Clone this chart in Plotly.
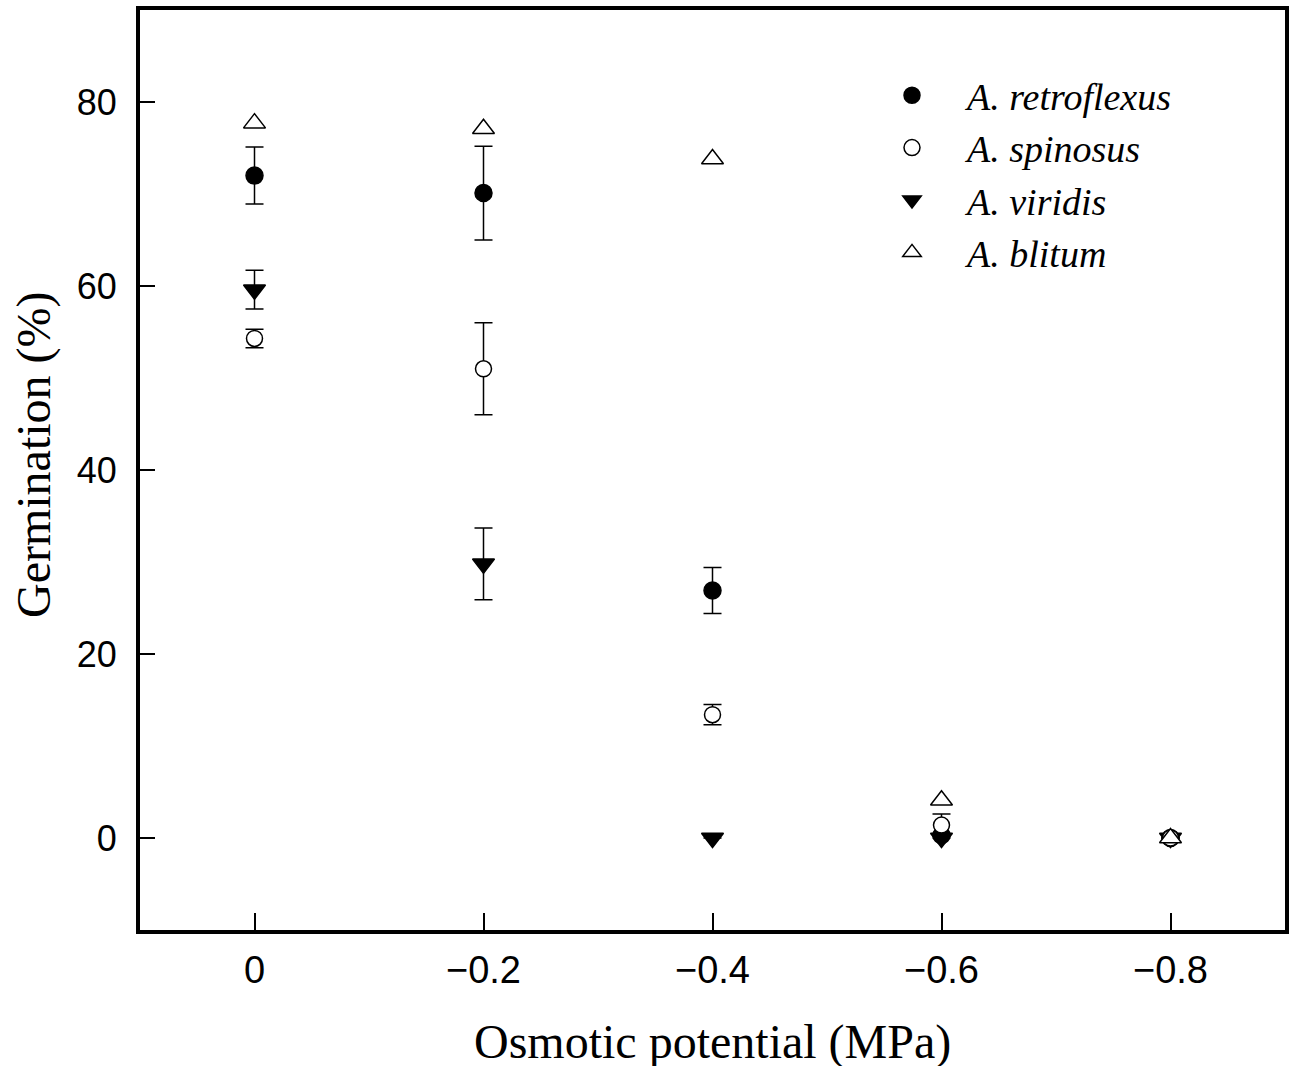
import plotly.graph_objects as go

x_vals = [0, -0.2, -0.4, -0.6, -0.8]
x_ticktext = ["0", "\u22120.2", "\u22120.4", "\u22120.6", "\u22120.8"]

retroflexus = [72.0, 70.1, 26.9, 0.3, 0.0]
retroflexus_err = [3.1, 5.1, 2.5, 0.0, 0.0]
spinosus = [54.3, 51.0, 13.4, 1.4, 0.0]
spinosus_err = [1.0, 5.0, 1.1, 1.2, 0.0]
viridis = [59.6, 29.8, 0.0, 0.0, 0.0]
viridis_err = [2.1, 3.9, 0.0, 0.0, 0.0]
blitum = [77.7, 77.1, 73.8, 4.1, 0.0]

y_ticks = [0, 20, 40, 60, 80]

fig = go.Figure()

def add(name, y, err, symbol, fill, size, rank):
    kw = {}
    if err is not None:
        kw["error_y"] = dict(type="data", array=err, visible=True, color="black",
                             thickness=1.5, width=9)
    fig.add_trace(go.Scatter(
        x=x_vals, y=y, name=name, mode="markers", legendrank=rank,
        marker=dict(symbol=symbol, size=size, color=fill,
                    line=dict(color="black", width=1.5)),
        **kw))

add("A. retroflexus", retroflexus, retroflexus_err, "circle", "black", 17, 1)
add("A. viridis", viridis, viridis_err, "triangle-down", "black", 19, 3)
add("A. spinosus", spinosus, spinosus_err, "circle", "white", 16, 2)
add("A. blitum", blitum, None, "triangle-up", "white", 19, 4)

L, R, T, B = 140, 8, 10, 136
W, H = 1293, 1066
pw, ph = W - L - R, H - T - B

fig.update_layout(
    width=W, height=H,
    margin=dict(l=L, r=R, t=T, b=B, autoexpand=False),
    plot_bgcolor="white", paper_bgcolor="white",
    showlegend=True,
    legend=dict(
        x=(857 - L) / pw, y=1 - (64 - T) / ph, xanchor="left", yanchor="top",
        font=dict(family="Liberation Serif", size=38, color="black", style="italic"),
        bgcolor="rgba(0,0,0,0)", itemwidth=100, tracegroupgap=0,
    ),
    xaxis=dict(
        range=[0.1, -0.9], tickvals=x_vals, ticktext=x_ticktext,
        ticks="inside", ticklen=17, tickwidth=1.5, tickcolor="black",
        showline=True, linewidth=4, linecolor="black", mirror=True,
        showgrid=False, zeroline=False, automargin=False,
        ticklabelstandoff=3,
        tickfont=dict(family="Liberation Sans", size=38, color="black"),
    ),
    yaxis=dict(
        range=[-10, 90], tickvals=y_ticks,
        ticks="inside", ticklen=15, tickwidth=1.5, tickcolor="black",
        showline=True, linewidth=4, linecolor="black", mirror=True,
        showgrid=False, zeroline=False, automargin=False,
        ticklabelstandoff=12,
        tickfont=dict(family="Liberation Sans", size=36, color="black"),
    ),
    annotations=[
        dict(text="Osmotic potential (MPa)", xref="paper", yref="paper",
             x=(712 - L) / pw, y=-(1042 - (T + ph)) / ph,
             xanchor="center", yanchor="middle", showarrow=False,
             font=dict(family="Liberation Serif", size=48, color="black")),
        dict(text="Germination (%)", xref="paper", yref="paper", textangle=-90,
             x=(34 - L) / pw, y=1 - (455 - T) / ph,
             xanchor="center", yanchor="middle", showarrow=False,
             font=dict(family="Liberation Serif", size=48, color="black")),
    ],
)

fig.write_html("out.html",
               config={"displayModeBar": False},
               post_script="document.body.style.margin='0';"
                           "document.body.style.overflow='hidden';")
